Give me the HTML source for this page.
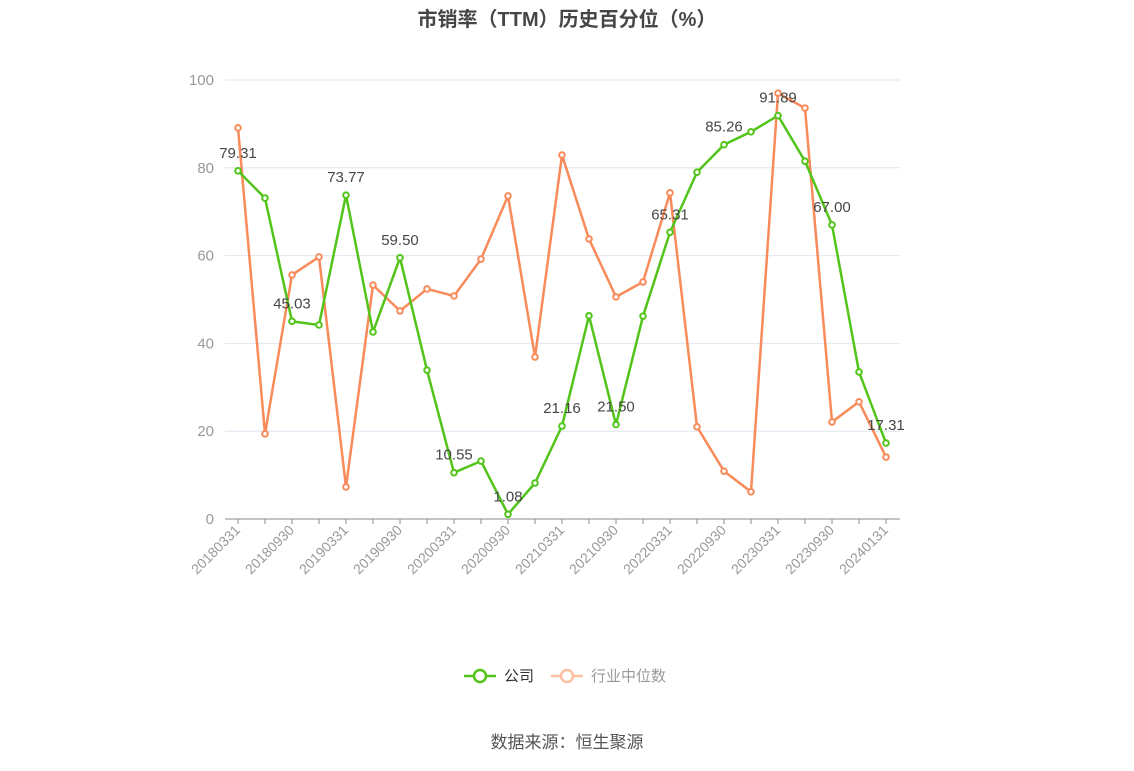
<!DOCTYPE html>
<html><head><meta charset="utf-8">
<style>
body{margin:0;background:#fff;font-family:"Liberation Sans","Noto Sans CJK SC",sans-serif;}
svg text{font-family:"Liberation Sans","Noto Sans CJK SC",sans-serif;}
</style></head>
<body>
<svg id="chart" width="1134" height="766" xmlns="http://www.w3.org/2000/svg">
<text x="567" y="26" text-anchor="middle" font-size="20" font-weight="bold" fill="#464646">市销率（TTM）历史百分位（%）</text>
<g id="grid"></g><g id="axes"></g><g id="series"></g>
<g>
<g>
<line x1="464" y1="676" x2="496" y2="676" stroke="#52c41a" stroke-width="2.5"/>
<circle cx="480" cy="676" r="6" fill="#fff" stroke="#52c41a" stroke-width="2.5"/>
<text x="504" y="681" font-size="15" fill="#333">公司</text></g>
<g>
<line x1="551" y1="676" x2="583" y2="676" stroke="#fcbfa0" stroke-width="2.5"/>
<circle cx="567" cy="676" r="6" fill="#fff" stroke="#fcbfa0" stroke-width="2.5"/>
<text x="591" y="681" font-size="15" fill="#999">行业中位数</text></g>
</g>
<text x="567" y="748" text-anchor="middle" font-size="17" fill="#555">数据来源：恒生聚源</text>
</svg>
<script>
const categories=["20180331","20180630","20180930","20181231","20190331","20190630","20190930","20191231","20200331","20200630","20200930","20201231","20210331","20210630","20210930","20211231","20220331","20220630","20220930","20221231","20230331","20230630","20230930","20231231","20240131"];
const companyValues=[79.31,73.1,45.03,44.2,73.77,42.6,59.50,33.9,10.55,13.2,1.08,8.2,21.16,46.3,21.50,46.2,65.31,79.0,85.26,88.2,91.89,81.5,67.00,33.5,17.31];
const industryValues=[89.1,19.4,55.6,59.7,7.3,53.3,47.4,52.4,50.8,59.2,73.6,36.9,82.9,63.8,50.6,54.0,74.3,21.0,10.9,6.2,97.0,93.6,22.1,26.7,14.1];
const yTicks=[0,20,40,60,80,100];
const NS="http://www.w3.org/2000/svg";
const x0=238,x1=886,y0=519,y100=80,left=225,right=900;
const xs=i=>x0+(x1-x0)*i/(categories.length-1);
const ys=v=>y0+(y100-y0)*v/100;
function mk(tag,attrs,parent){const e=document.createElementNS(NS,tag);for(const k in attrs)e.setAttribute(k,attrs[k]);parent.appendChild(e);return e;}
const grid=document.getElementById('grid'),axes=document.getElementById('axes'),ser=document.getElementById('series');
yTicks.forEach(t=>{
 const l=mk('line',{x1:left,x2:right,y1:ys(t),y2:ys(t),stroke:t===0?'#888':'#e0e6f1','stroke-width':1},grid);
 
 
 const tx=mk('text',{x:214,y:ys(t)+5,'text-anchor':'end','font-size':15,fill:'#999'},axes);
 tx.textContent=t;
 
 
});
categories.forEach((c,i)=>{
 const x=xs(i);
 mk('line',{x1:x,x2:x,y1:y0,y2:y0+5,stroke:'#888'},axes);
 if(i%2===0){
  const tx=mk('text',{x:x+3,y:y0+12,'text-anchor':'end','font-size':14,fill:'#999',transform:`rotate(-45 ${x+3} ${y0+12})`},axes);
  tx.textContent=c;
  
  
 }
});
function drawSeries(vals,color,name,labels){
 const g=mk('g',{},ser);
 
 
 const pl=mk('polyline',{points:vals.map((v,i)=>xs(i)+','+ys(v)).join(' '),fill:'none',stroke:color,'stroke-width':2.5},g);
 
 
 vals.forEach((v,i)=>{
  const c=mk('circle',{cx:xs(i),cy:ys(v),r:2.8,fill:'#fff',stroke:color,'stroke-width':2},g);
  
  
  if(labels&&i%2===0){
   const t=mk('text',{x:xs(i),y:ys(v)-13,'text-anchor':'middle','font-size':15,fill:'#464646'},g);
   t.textContent=v.toFixed(2);
   
   
  }
 });
}
drawSeries(industryValues,'#f98b5b','industry-median-series',false);
drawSeries(companyValues,'#52c41a','company-series',true);
</script>
</body></html>
